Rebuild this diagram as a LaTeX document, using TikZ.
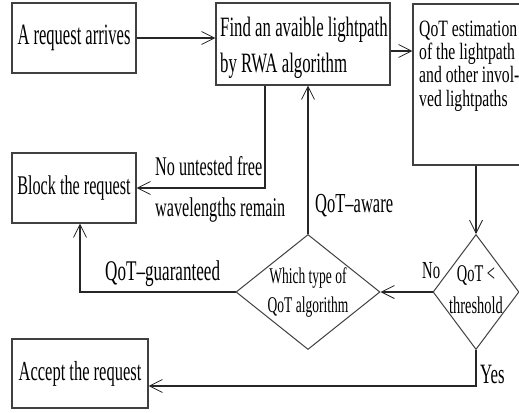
\documentclass[tikz,border=0pt]{standalone}
\usepackage{fontspec}
\setmainfont{Liberation Serif}
\newfontfamily\fS[FakeStretch=0.6]{Liberation Serif}
\newfontfamily\fT[FakeStretch=0.67]{Liberation Serif}
\newfontfamily\fU[FakeStretch=0.56]{Liberation Serif}
\usetikzlibrary{shapes.geometric,arrows.meta,calc}
\begin{document}
\begin{tikzpicture}[x=1pt,y=-1pt,
  line/.style={line width=1.1pt, draw=black!85},
  box/.style={draw=black!75, line width=1.2pt, rectangle, inner sep=0pt},
  dia/.style={draw=black!75, line width=1pt, diamond, inner sep=0pt},
  txt/.style={inner sep=0pt, text=black},
  arw/.style={line, -{Straight Barb[length=13pt,width=13pt,line width=0.8pt]}},
]
\clip (0,0) rectangle (519,412);
\fill[white] (0,0) rectangle (519,412);

% boxes
\node[box, minimum width=124pt, minimum height=70pt, font=\fU\fontsize{29.5}{30}\selectfont] (arr) at (74,38) {A request arrives};
\node[box, minimum width=174pt, minimum height=82pt] (find) at (303,44) {};
\node[txt, anchor=base west, align=left, font=\fS\fontsize{28}{36}\selectfont] (findtext) at (220,73) {Find an avaible lightpath\\by RWA algorithm};
\node[box, minimum width=126pt, minimum height=161pt] (qot) at (476,84.5) {};
\node[txt, anchor=base west, align=left, font=\fT\fontsize{23.4}{23.3}\selectfont] (qottext) at (419,106) {QoT estimation\\of the lightpath\\and other invol-\\ved lightpaths};
\node[box, minimum width=124pt, minimum height=70pt, font=\fS\fontsize{27}{30}\selectfont] (block) at (74,188) {Block the request};
\node[box, minimum width=136pt, minimum height=69pt, font=\fS\fontsize{27.5}{30}\selectfont] (accept) at (80,373.5) {Accept the request};

% diamonds
\node[dia, minimum width=144pt, minimum height=115pt] (which) at (308,292) {};
\node[txt, align=center, font=\fS\fontsize{22.5}{29}\selectfont] (whichtext) at (308,293) {Which type of\\QoT algorithm};
\node[dia, minimum width=86pt, minimum height=115pt] (thr) at (476,292) {};
\node[txt, align=center, font=\fS\fontsize{24}{32}\selectfont] (thrtext) at (476,290) {QoT <\\threshold};

% connectors
\draw[arw] (arr.east) -- (arr.east -| find.west);
\coordinate (fq) at ($(find.east)+(0,7)$);
\draw[arw] (fq) -- (fq -| qot.west);
\coordinate (fb) at ($(find.south)+(-38,0)$);
\draw[arw] (fb) |- (block.east);
\draw[arw] (which.north) -- (which.north |- find.south);
\coordinate (bb) at ($(block.south)+(6,0)$);
\draw[arw] (which.west) -| (bb);
\draw[arw] (qot.south) -- (thr.north);
\draw[arw] (thr.west) -- (which.east);
\coordinate (ae) at ($(accept.east)+(0,12.5)$);
\draw[arw] (thr.south) |- (ae);

% labels
\node[txt, anchor=base west, font=\fS\fontsize{27}{30}\selectfont] (l1) at (155,175) {No untested free};
\node[txt, anchor=base west, font=\fS\fontsize{27}{30}\selectfont] (l2) at (155,216) {wavelengths remain};
\node[txt, anchor=base west, font=\fS\fontsize{27.5}{30}\selectfont] (l3) at (315,212) {QoT–aware};
\node[txt, anchor=base west, font=\fS\fontsize{28.5}{30}\selectfont] (l4) at (105,280) {QoT–guaranteed};
\node[txt, anchor=base west, font=\fS\fontsize{24.5}{30}\selectfont] (l5) at (422,278) {No};
\node[txt, anchor=base west, font=\fS\fontsize{28}{30}\selectfont] (l6) at (480,383) {Yes};
\end{tikzpicture}
\end{document}
